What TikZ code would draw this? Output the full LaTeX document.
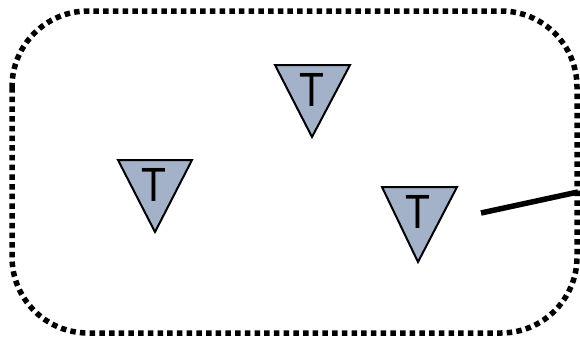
\documentclass[tikz,border=0pt]{standalone}
\usepackage{fontspec}
\setmainfont{Liberation Sans}
\definecolor{trifill}{HTML}{A3B1C9}
\begin{document}
\begin{tikzpicture}[x=1pt,y=-1pt,
  tri/.style={draw=black,line width=2pt,fill=trifill,line join=miter},
  tlabel/.style={font=\fontsize{48}{48}\selectfont,inner sep=0pt},
  border/.style={line width=5.5pt,dash pattern=on 5.5pt off 4.2pt,rounded corners=76pt},
  conn/.style={line width=5.5pt}]
\useasboundingbox (0,0) rectangle (580,340);
\draw[border] (12,11) rectangle (577,333);
% triangles
\draw[tri] (118,160) -- (192,160) -- (155,232) -- cycle;
\node[tlabel] (t1) at (154,185) {\scalebox{0.85}[1]{T}};
\draw[tri] (275,65) -- (350,65) -- (312,137) -- cycle;
\node[tlabel] (t2) at (312,90) {\scalebox{0.85}[1]{T}};
\draw[tri] (382,187) -- (457,187) -- (418,262) -- cycle;
\node[tlabel] (t3) at (418,212) {\scalebox{0.85}[1]{T}};
\coordinate (a) at (481,213);
\coordinate (b) at (578,192);
\draw[conn] (a) -- (b);
\end{tikzpicture}
\end{document}
